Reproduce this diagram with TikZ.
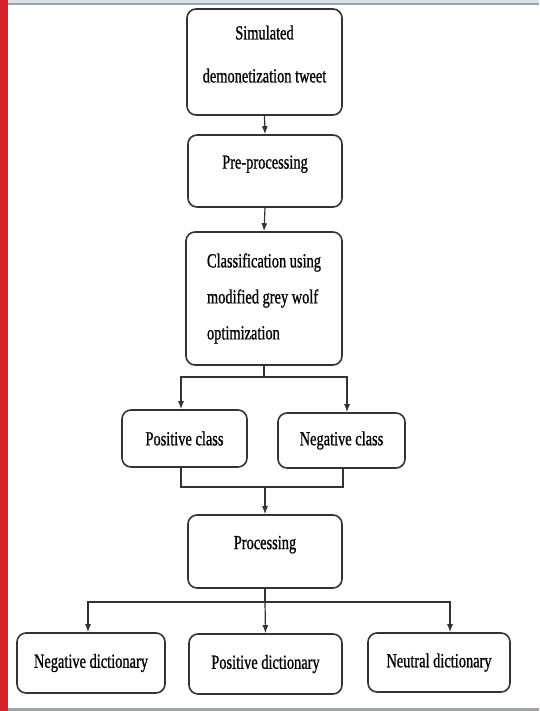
\documentclass[tikz,border=0pt]{standalone}
\usepackage{fontspec}
\setmainfont[FakeStretch=0.72, FakeBold=0.8]{Liberation Serif}
\usetikzlibrary{arrows.meta}

\definecolor{sidered}{HTML}{D42329}
\definecolor{topband}{HTML}{D8E0E8}
\definecolor{rulegrey}{HTML}{9EA3A8}
\definecolor{boxline}{HTML}{333333}

\begin{document}
\begin{tikzpicture}[x=1pt, y=-1pt,
    box/.style={draw=boxline, line width=1.6pt, rounded corners=9pt,
        align=center, inner sep=0pt, font=\fontsize{20}{36}\selectfont},
    raised/.style={text depth=18pt},
    arr/.style={-{Latex[length=8pt,width=6pt]}, line width=1.2pt, draw=boxline},
    link/.style={line width=1.2pt, draw=boxline}]
    \useasboundingbox (0,0) rectangle (539,711);
    % page frame
    \fill[sidered] (0,0) rectangle (8,711);
    \fill[topband] (8,0) rectangle (539,3);
    \fill[rulegrey] (8,3) rectangle (539,5.5);
    \fill[rulegrey] (8,708) rectangle (539,711);

    \node[box, text depth=16pt, minimum width=155pt, minimum height=106pt] (tweet) at (264.5, 62) {Simulated\\[7pt] demonetization tweet};
    \node[box, raised, minimum width=154pt, minimum height=72pt] (pre) at (265, 171) {Pre-processing};
    \node[box, minimum width=156pt, minimum height=133pt, align=left] (cls) at (264, 298.5) {Classification using\\ modified grey wolf\\ optimization};
    \node[box, minimum width=125pt, minimum height=57pt] (posc) at (184.5, 438.5) {Positive class};
    \node[box, minimum width=127pt, minimum height=55pt] (negc) at (341.5, 440.5) {Negative class};
    \node[box, raised, minimum width=154pt, minimum height=73pt] (proc) at (265, 551.5) {Processing};
    \node[box, minimum width=148pt, minimum height=60pt] (negd) at (91, 663) {Negative dictionary};
    \node[box, minimum width=153pt, minimum height=60pt] (posd) at (265.5, 664) {Positive dictionary};
    \node[box, minimum width=142pt, minimum height=59pt] (neud) at (439, 662.5) {Neutral dictionary};

    \coordinate (split) at (264, 377);
    \coordinate (join) at (265, 487);
    \coordinate (fork) at (265, 602);

    \draw[arr] (tweet.south) -- (pre.north);
    \draw[arr] (pre.south) -- (cls.north);
    \draw[link] (cls.south) -- (split);
    \draw[arr] (split) -| ([xshift=-3.5pt]posc.north);
    \draw[arr] (split) -| ([xshift=5.5pt]negc.north);
    \draw[link] ([xshift=-3.5pt]posc.south) |- (join) -| ([xshift=1.5pt]negc.south);
    \draw[arr] (join) -- (proc.north);
    \draw[link] (proc.south) -- (fork);
    \draw[arr] (fork) -| ([xshift=-3pt]negd.north);
    \draw[arr] (fork) -- (posd.north);
    \draw[arr] (fork) -| ([xshift=11pt]neud.north);
\end{tikzpicture}
\end{document}
